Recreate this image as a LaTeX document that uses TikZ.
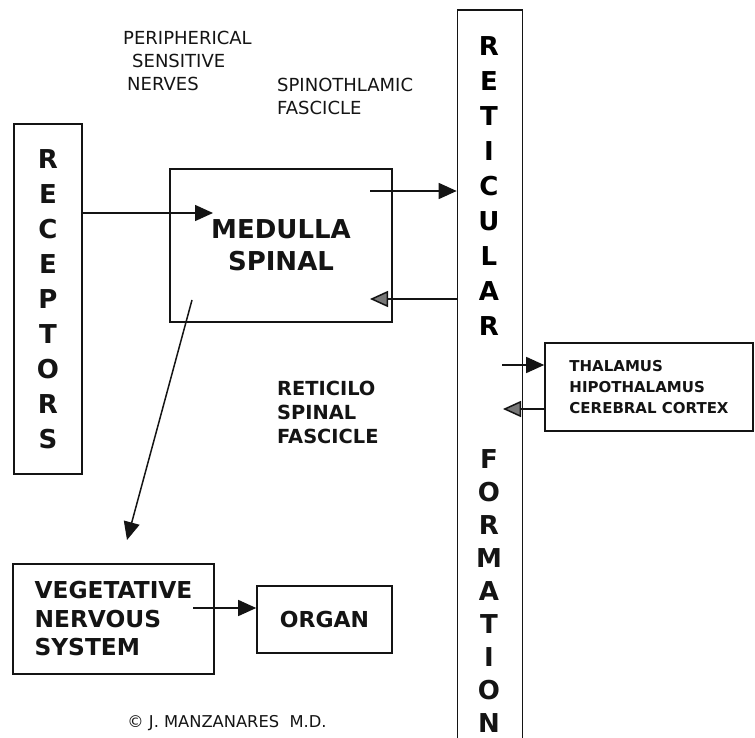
\documentclass[tikz,border=0pt]{standalone}
\usepackage{fontspec}
\setmainfont{DejaVu Sans}
\usepackage{tikz}
\usetikzlibrary{
    arrows.meta,
    positioning,
    calc
}
\definecolor{Cink}{RGB}{20, 20, 20}
\definecolor{Cgrey}{RGB}{120, 120, 120}
\tikzset{
    nbox/.style={
        rectangle, draw=Cink, line width=1.6pt, fill=white, text=Cink,
        inner sep=0pt, align=center
    },
    nbig/.style={font=\fontsize{26}{35}\selectfont\bfseries},
    nlabel/.style={
        anchor=west, align=left, inner sep=0pt, text=Cink,
        font=\fontsize{18}{23}\selectfont
    },
    narr/.style={-{Triangle[length=18pt, width=16pt]}, line width=1.5pt, Cink},
    nback/.style={-{Triangle[length=18pt, width=16pt, fill=Cgrey]}, line width=1.5pt, Cink},
}

\begin{document}
\begin{tikzpicture}[x=1pt, y=-1pt]
    \useasboundingbox (0,0) rectangle (755,738);

    % ── boxes ─────────────────────────────────────────────
    \node [nbox, nbig, minimum width=68, minimum height=350]
        (receptors) at (48,299) {R\\E\\C\\E\\P\\T\\O\\R\\S};
    \node [nbox, minimum width=222, minimum height=153,
           font=\fontsize{26}{32}\selectfont\bfseries]
        (medulla) at (281,245.5) {MEDULLA\\SPINAL};
    \node [nbox, minimum width=65, minimum height=732]
        (reticular) at (490,376) {};
    \node [nbig, inner sep=0pt, align=center]
        (retA) at (489,186) {R\\E\\T\\I\\C\\U\\L\\A\\R};
    \node [inner sep=0pt, align=center, text=Cink,
           font=\fontsize{26}{33}\selectfont\bfseries]
        (retB) at (489,591) {F\\O\\R\\M\\A\\T\\I\\O\\N};
    \node [nbox, minimum width=208, minimum height=88, align=left,
           font=\fontsize{15}{21}\selectfont\bfseries]
        (thalamus) at (649,387) {THALAMUS\\HIPOTHALAMUS\\CEREBRAL CORTEX};
    \node [nbox, minimum width=201, minimum height=110, align=left,
           font=\fontsize{23.3}{28.5}\selectfont\bfseries]
        (vegetative) at (113.5,619) {VEGETATIVE\\NERVOUS\\SYSTEM};
    \node [nbox, minimum width=135, minimum height=67,
           font=\fontsize{22}{28}\selectfont\bfseries]
        (organ) at (324.5,619.5) {ORGAN};

    % ── labels ────────────────────────────────────────────
    \node [nlabel] (peripheral) at (123,61)
        {PERIPHERICAL\\\hspace*{9pt}SENSITIVE\\\hspace*{4pt}NERVES};
    \node [nlabel] (spinothalamic) at (277,96) {SPINOTHLAMIC\\FASCICLE};
    \node [nlabel, font=\fontsize{19.4}{24}\selectfont\bfseries]
        (reticulospinal) at (277,412) {RETICILO\\SPINAL\\FASCICLE};
    \node [font=\fontsize{16.3}{18}\selectfont, text=Cink, inner sep=0pt]
        (copyright) at (227,723) {© J. MANZANARES\ \ M.D.};

    % ── arrow ends ────────────────────────────────────────
    \coordinate (medIn)   at (213,213);
    \coordinate (medOut)  at (370,191);
    \coordinate (medBack) at (370,299);
    \coordinate (medDown) at (192,300);
    \coordinate (vegTip)  at (127,540);
    \coordinate (retOut)  at (502,365);
    \coordinate (retIn)   at (503,409);
    \coordinate (vegOut)  at (193,608);

    % ── arrows ────────────────────────────────────────────
    \draw [narr]  (receptors.east |- medIn) -- (medIn);
    \draw [narr]  (medOut) -- (medOut -| reticular.west);
    \draw [nback] (reticular.west |- medBack) -- (medBack);
    \draw [narr]  (retOut) -- (retOut -| thalamus.west);
    \draw [nback] (thalamus.west |- retIn) -- (retIn);
    \draw [narr]  (medDown) -- (vegTip);
    \draw [narr]  (vegOut) -- (vegOut -| organ.west);

\end{tikzpicture}
\end{document}
